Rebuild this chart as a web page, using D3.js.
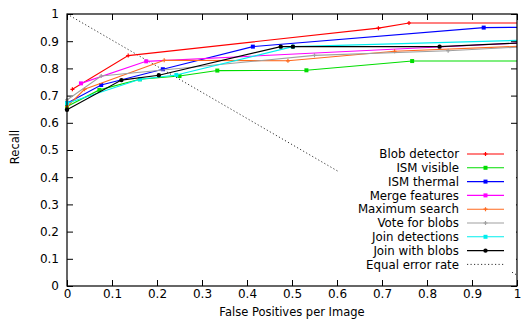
<!DOCTYPE html>
<html>
<head>
<meta charset="utf-8">
<script src="https://cdn.jsdelivr.net/npm/d3@7"></script>
<style>
  body { margin: 0; background: #fff; }
  text { font-family: "DejaVu Sans", sans-serif; }
</style>
</head>
<body>
<div id="chart"></div>
<script>
// values (x = false positives per image, y = recall)
let seriesNames = ["Blob detector", "ISM visible", "ISM thermal", "Merge features",
                   "Maximum search", "Vote for blobs", "Join detections", "Join with blobs"];

let blobX = [0.012, 0.136, 0.692, 0.760, 1.0];
let blobY = [0.723, 0.847, 0.948, 0.967, 0.967];

let visibleX = [0, 0.072, 0.162, 0.25, 0.334, 0.532, 0.767, 1.0];
let visibleY = [0.66, 0.721, 0.76, 0.772, 0.792, 0.793, 0.827, 0.827];

let thermalX = [0, 0.076, 0.213, 0.413, 0.926, 1.0];
let thermalY = [0.672, 0.739, 0.797, 0.880, 0.950, 0.951];

let mergeX = [0.031, 0.176, 1.0];
let mergeY = [0.745, 0.826, 0.893];

let maxSearchX = [0, 0.039, 0.216, 0.491, 0.728, 1.0];
let maxSearchY = [0.659, 0.723, 0.830, 0.828, 0.863, 0.881];

let voteX = [0, 0.076, 0.55, 0.847, 1.0];
let voteY = [0.684, 0.772, 0.848, 0.865, 0.878];

let joinDetX = [0, 0.162, 0.243, 0.502, 1.0];
let joinDetY = [0.672, 0.760, 0.776, 0.880, 0.903];

let joinBlobX = [0, 0.121, 0.204, 0.475, 0.502, 0.828, 1.0];
let joinBlobY = [0.648, 0.757, 0.775, 0.880, 0.880, 0.880, 0.893];

let eerX = [0, 1];
let eerY = [1, 0.04];

let xTicks = [0, 0.1, 0.2, 0.3, 0.4, 0.5, 0.6, 0.7, 0.8, 0.9, 1];
let yTicks = [0, 0.1, 0.2, 0.3, 0.4, 0.5, 0.6, 0.7, 0.8, 0.9, 1];

let colors = ["#ff0000", "#00dd00", "#0000ff", "#ff00ff", "#ff6a1f", "#a0a0a0", "#00eeee", "#000000"];
let markers = ["plus", "square", "square", "square", "plus", "plus", "square", "circle"];

let allX = [blobX, visibleX, thermalX, mergeX, maxSearchX, voteX, joinDetX, joinBlobX];
let allY = [blobY, visibleY, thermalY, mergeY, maxSearchY, voteY, joinDetY, joinBlobY];

let width = 523, height = 320;
let margin = {top: 14, right: 6, bottom: 34, left: 67};

let svg = d3.select("#chart").append("svg")
    .attr("width", width)
    .attr("height", height);

let x = d3.scaleLinear().domain([0, 1]).range([margin.left, width - margin.right]);
let y = d3.scaleLinear().domain([0, 1]).range([height - margin.bottom, margin.top]);

let fmt = d => String(+d.toFixed(1));

// axes with inward ticks on all four sides
svg.append("g")
    .attr("transform", `translate(0, ${y(0)})`)
    .call(d3.axisBottom(x).tickValues(xTicks).tickFormat(fmt).tickSize(-6).tickPadding(3))
    .call(g => g.select(".domain").remove())
    .selectAll("text").style("font-size", "12px");

svg.append("g")
    .attr("transform", `translate(${x(0)}, 0)`)
    .call(d3.axisLeft(y).tickValues(yTicks).tickFormat(fmt).tickSize(-6).tickPadding(8))
    .call(g => g.select(".domain").remove())
    .selectAll("text").style("font-size", "12px");

svg.append("g")
    .attr("transform", `translate(0, ${y(1)})`)
    .call(d3.axisTop(x).tickValues(xTicks).tickFormat("").tickSize(-6))
    .call(g => g.select(".domain").remove());

svg.append("g")
    .attr("transform", `translate(${x(1)}, 0)`)
    .call(d3.axisRight(y).tickValues(yTicks).tickFormat("").tickSize(-6))
    .call(g => g.select(".domain").remove());

svg.selectAll(".tick line").attr("stroke", "#000");

// equal error rate line (drawn first, legend box covers part of it)
let line = d3.line().x(d => x(d[0])).y(d => y(d[1]));

svg.append("path")
    .datum(eerX.map((v, i) => [v, eerY[i]]))
    .attr("d", line)
    .attr("fill", "none")
    .attr("stroke", "#333")
    .attr("stroke-width", 1)
    .attr("stroke-dasharray", "1.2,2.3");

function drawMarker(g, type, cx, cy, color) {
  if (type == "square") {
    g.append("rect").attr("x", cx - 2).attr("y", cy - 2)
      .attr("width", 4).attr("height", 4).attr("fill", color);
  } else if (type == "circle") {
    g.append("circle").attr("cx", cx).attr("cy", cy).attr("r", 2.2).attr("fill", color);
  } else {
    g.append("path")
      .attr("d", `M${cx - 2},${cy}H${cx + 2}M${cx},${cy - 2}V${cy + 2}`)
      .attr("stroke", color).attr("stroke-width", 1.2);
  }
}

// curves (the last value of each run sits on the right border, no marker there)
for (let s = 0; s < seriesNames.length; s++) {
  let pts = allX[s].map((v, i) => [v, allY[s][i]]);
  let g = svg.append("g");
  g.append("path")
    .datum(pts)
    .attr("d", line)
    .attr("fill", "none")
    .attr("stroke", colors[s])
    .attr("stroke-width", 1.1);
  pts.filter(p => p[0] < 1).forEach(p => drawMarker(g, markers[s], x(p[0]), y(p[1]), colors[s]));
}

// legend
let lg = svg.append("g");
lg.append("rect")
    .attr("x", 339).attr("y", 145)
    .attr("width", 177).attr("height", 127)
    .attr("fill", "#fff");

let legendNames = seriesNames.concat(["Equal error rate"]);
legendNames.forEach((name, i) => {
  let ly = 154 + i * 13.8;
  lg.append("text")
    .attr("x", 459).attr("y", ly)
    .attr("dy", "0.35em")
    .attr("text-anchor", "end")
    .style("font-size", "11.8px")
    .text(name);
  if (i < seriesNames.length) {
    lg.append("line")
      .attr("x1", 467).attr("x2", 504).attr("y1", ly).attr("y2", ly)
      .attr("stroke", colors[i]).attr("stroke-width", 1.1);
    drawMarker(lg, markers[i], 485.5, ly, colors[i]);
  } else {
    lg.append("line")
      .attr("x1", 467).attr("x2", 504).attr("y1", ly).attr("y2", ly)
      .attr("stroke", "#333").attr("stroke-dasharray", "1.2,2.3");
  }
});

// frame
svg.append("rect")
    .attr("x", x(0)).attr("y", y(1))
    .attr("width", x(1) - x(0)).attr("height", y(0) - y(1))
    .attr("fill", "none")
    .attr("stroke", "#000")
    .attr("stroke-width", 1.2);

// axis titles
svg.append("text")
    .attr("x", (x(0) + x(1)) / 2).attr("y", 312)
    .attr("dy", "0.35em")
    .attr("text-anchor", "middle")
    .style("font-size", "11.5px")
    .text("False Positives per Image");

svg.append("text")
    .attr("transform", `translate(15, 147) rotate(-90)`)
    .attr("dy", "0.35em")
    .attr("text-anchor", "middle")
    .style("font-size", "11.5px")
    .text("Recall");
</script>
</body>
</html>
